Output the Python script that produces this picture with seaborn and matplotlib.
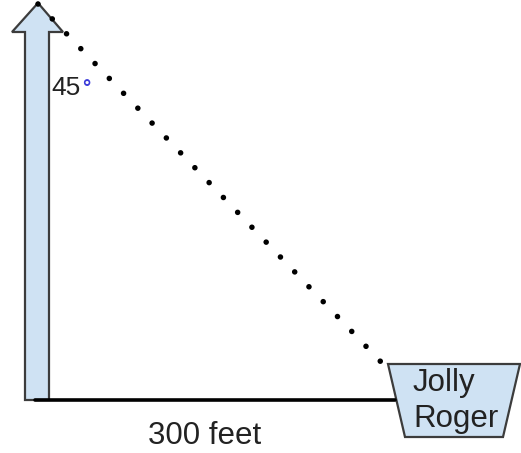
import numpy as np
import pandas as pd
import seaborn as sns
import matplotlib.pyplot as plt
from matplotlib.patches import Polygon

# ---- Diagram data (pixel-like units, y grows downward) ----
distance_label = "300 feet"
angle_label = "45"
ship_label = ["Jolly", "Roger"]

# pole (arrow) outline
arrow_x = [25, 25, 12, 38, 63, 49, 49]
arrow_y = [400, 32, 32, 3, 32, 32, 400]

# ground line
ground_x = [35, 395]
ground_y = [400, 400]

# line of sight from top of pole to the ship
sight_x = [38, 382]
sight_y = [4, 363]

# ship (trapezoid)
ship_x = [388, 520, 503, 405]
ship_y = [364, 364, 437, 437]

sns.set_style("white")
plt.rcParams['font.family'] = ['Liberation Sans', 'DejaVu Sans']

fig = plt.figure(figsize=(5.21, 4.53), dpi=100)
ax = fig.add_axes([0, 0, 1, 1])
ax.set_xlim(0, 521)
ax.set_ylim(453, 0)
ax.axis("off")

fill_col = "#cfe2f3"
edge_col = "#3c3c3c"

ax.add_patch(Polygon(np.column_stack([arrow_x, arrow_y]), closed=True,
                     facecolor=fill_col, edgecolor=edge_col, linewidth=1.6, zorder=2))
ax.add_patch(Polygon(np.column_stack([ship_x, ship_y]), closed=True,
                     facecolor=fill_col, edgecolor=edge_col, linewidth=1.6, zorder=2))

ground = pd.DataFrame({"x": ground_x, "y": ground_y})
sns.lineplot(data=ground, x="x", y="y", color="black", linewidth=2.6,
             ax=ax, zorder=3, sort=False)

sight = pd.DataFrame({"x": sight_x, "y": sight_y})
sns.lineplot(data=sight, x="x", y="y", color="black", linewidth=4.0,
             linestyle=(0, (0.01, 3.7)), dash_capstyle="round",
             ax=ax, zorder=4, sort=False)

ax.text(51, 88, angle_label, fontsize=19, color="#222222", va="center", ha="left")
ax.text(82, 88, "°", fontsize=15, color="#3b3bd9", va="center", ha="left",
        fontweight="bold")

ax.text(444, 383, ship_label[0], fontsize=22.5, color="#222222", va="center", ha="center")
ax.text(456, 419, ship_label[1], fontsize=22.5, color="#222222", va="center", ha="center")

ax.text(205, 436, distance_label, fontsize=22.5, color="#222222", va="center", ha="center")

ax.set_xlabel("")
ax.set_ylabel("")
fig.savefig("out.png", dpi=100)
